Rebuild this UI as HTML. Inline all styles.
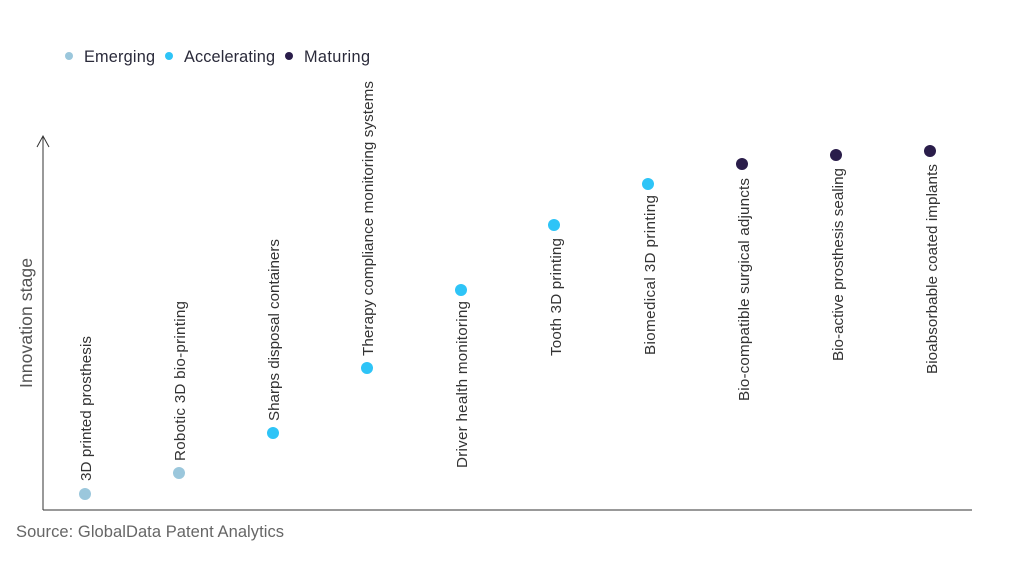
<!DOCTYPE html>
<html><head><meta charset="utf-8"><style>
body{margin:0;background:#fff;}
svg{display:block;font-family:"Liberation Sans",sans-serif;}
</style></head><body>
<svg width="1024" height="576" viewBox="0 0 1024 576">
<g font-size="16.3" fill="#2a2a3a">
<circle cx="69" cy="56" r="4" fill="#9bc7dc"/><text x="84" y="62" textLength="71">Emerging</text>
<circle cx="169" cy="56" r="4" fill="#2ec4f7"/><text x="184" y="62" textLength="91">Accelerating</text>
<circle cx="289" cy="56" r="4" fill="#2a1d4a"/><text x="304" y="62" textLength="66">Maturing</text>
</g>
<g stroke="#333" stroke-width="1" fill="none">
<line x1="43" y1="136" x2="43" y2="510"/>
<line x1="43" y1="510" x2="972" y2="510"/>
<polyline points="37,147 43,136 49,147"/>
</g>
<text transform="translate(32,388) rotate(-90)" font-size="17.5" fill="#555" textLength="130">Innovation stage</text>
<text x="16" y="537" font-size="16.5" fill="#666" textLength="268">Source: GlobalData Patent Analytics</text>
<g>
<circle cx="85" cy="494" r="6" fill="#9bc7dc"/>
<circle cx="179" cy="473" r="6" fill="#9bc7dc"/>
<circle cx="273" cy="433" r="6" fill="#2ec4f7"/>
<circle cx="367" cy="368" r="6" fill="#2ec4f7"/>
<circle cx="461" cy="290" r="6" fill="#2ec4f7"/>
<circle cx="554" cy="225" r="6" fill="#2ec4f7"/>
<circle cx="648" cy="184" r="6" fill="#2ec4f7"/>
<circle cx="742" cy="164" r="6" fill="#2a1d4a"/>
<circle cx="836" cy="155" r="6" fill="#2a1d4a"/>
<circle cx="930" cy="151" r="6" fill="#2a1d4a"/>
</g>
<g font-size="15.2" fill="#333">
<text transform="translate(91,481) rotate(-90)" textLength="145">3D printed prosthesis</text>
<text transform="translate(185,461) rotate(-90)" textLength="160">Robotic 3D bio-printing</text>
<text transform="translate(279,421) rotate(-90)" textLength="182">Sharps disposal containers</text>
<text transform="translate(373,356) rotate(-90)" textLength="275">Therapy compliance monitoring systems</text>
<text transform="translate(467,468) rotate(-90)" textLength="167">Driver health monitoring</text>
<text transform="translate(561,356) rotate(-90)" textLength="118">Tooth 3D printing</text>
<text transform="translate(655,355) rotate(-90)" textLength="160">Biomedical 3D printing</text>
<text transform="translate(749,401) rotate(-90)" textLength="223">Bio-compatible surgical adjuncts</text>
<text transform="translate(843,361) rotate(-90)" textLength="193">Bio-active prosthesis sealing</text>
<text transform="translate(937,374) rotate(-90)" textLength="210">Bioabsorbable coated implants</text>
</g>
</svg>
</body></html>
